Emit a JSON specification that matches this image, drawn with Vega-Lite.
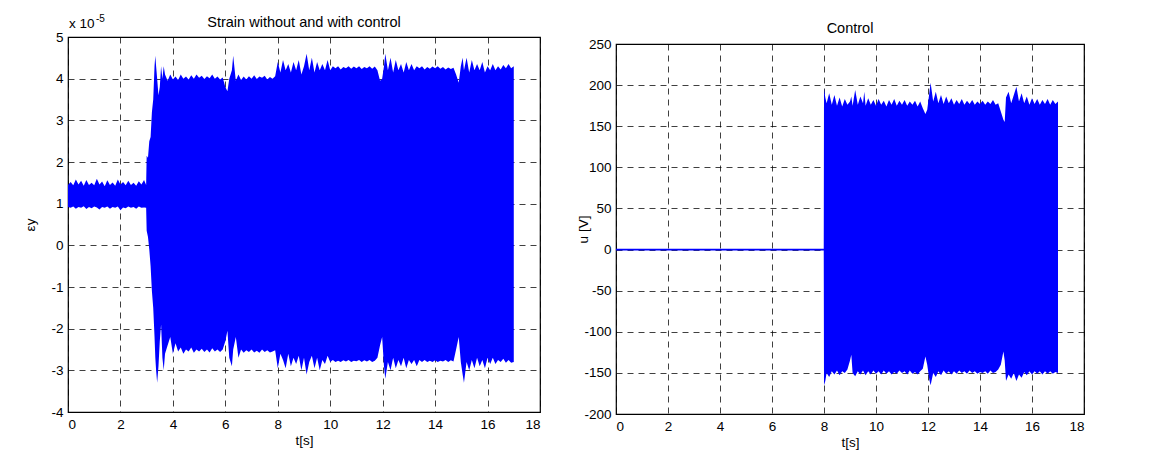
{
  "$schema": "https://vega.github.io/schema/vega-lite/v6.json",
  "background": "white",
  "padding": {"left": 23, "top": 13, "right": 5, "bottom": 3},
  "config": {
    "font": "Liberation Sans",
    "view": {"stroke": "#000", "strokeWidth": 1.2},
    "axis": {"grid": true, "gridColor": "#000", "gridDash": [6, 5], "gridOpacity": 0.75, "gridWidth": 1, "ticks": false, "tickSize": 0, "domain": false, "labelFont": "Liberation Sans", "labelFontSize": 13.5, "labelColor": "#000", "labelExpr": "replace(datum.label, '−', '-')", "titleFont": "Liberation Sans", "titleFontSize": 13.5, "titleFontWeight": "normal", "titleColor": "#000"},
    "title": {"font": "Liberation Sans", "fontSize": 14.5, "fontWeight": "normal", "color": "#000", "baseline": "alphabetic"},
    "concat": {"spacing": 34}
  },
  "datasets": {
    "strain": [
      {"t": 0.0, "hi": 1.45, "lo": 0.92}, {"t": 0.1, "hi": 1.52, "lo": 0.90}, {"t": 0.2, "hi": 1.44, "lo": 0.93}, {"t": 0.3, "hi": 1.58, "lo": 0.88},
      {"t": 0.4, "hi": 1.46, "lo": 0.92}, {"t": 0.5, "hi": 1.55, "lo": 0.90}, {"t": 0.6, "hi": 1.43, "lo": 0.94}, {"t": 0.7, "hi": 1.57, "lo": 0.87},
      {"t": 0.8, "hi": 1.45, "lo": 0.92}, {"t": 0.9, "hi": 1.50, "lo": 0.89}, {"t": 1.0, "hi": 1.44, "lo": 0.93}, {"t": 1.1, "hi": 1.60, "lo": 0.91},
      {"t": 1.2, "hi": 1.46, "lo": 0.86}, {"t": 1.3, "hi": 1.53, "lo": 0.92}, {"t": 1.4, "hi": 1.42, "lo": 0.90}, {"t": 1.5, "hi": 1.56, "lo": 0.93},
      {"t": 1.6, "hi": 1.45, "lo": 0.88}, {"t": 1.7, "hi": 1.51, "lo": 0.92}, {"t": 1.8, "hi": 1.43, "lo": 0.90}, {"t": 1.9, "hi": 1.58, "lo": 0.93},
      {"t": 2.0, "hi": 1.46, "lo": 0.84}, {"t": 2.1, "hi": 1.52, "lo": 0.91}, {"t": 2.2, "hi": 1.44, "lo": 0.89}, {"t": 2.3, "hi": 1.55, "lo": 0.93},
      {"t": 2.4, "hi": 1.45, "lo": 0.90}, {"t": 2.5, "hi": 1.50, "lo": 0.92}, {"t": 2.6, "hi": 1.43, "lo": 0.88}, {"t": 2.7, "hi": 1.54, "lo": 0.93},
      {"t": 2.8, "hi": 1.46, "lo": 0.90}, {"t": 2.9, "hi": 1.57, "lo": 0.91}, {"t": 2.98, "hi": 1.45, "lo": 0.90},
      {"t": 3.0, "hi": 2.15, "lo": 0.35}, {"t": 3.05, "hi": 2.1, "lo": 0.2}, {"t": 3.1, "hi": 2.5, "lo": -0.1}, {"t": 3.15, "hi": 2.6, "lo": -0.5},
      {"t": 3.2, "hi": 3.2, "lo": -1.1}, {"t": 3.25, "hi": 3.5, "lo": -1.5}, {"t": 3.3, "hi": 4.3, "lo": -2.2}, {"t": 3.33, "hi": 4.55, "lo": -2.7},
      {"t": 3.36, "hi": 4.3, "lo": -3.0}, {"t": 3.4, "hi": 4.0, "lo": -3.3}, {"t": 3.45, "hi": 3.6, "lo": -2.9}, {"t": 3.5, "hi": 3.8, "lo": -2.3},
      {"t": 3.55, "hi": 4.3, "lo": -1.9}, {"t": 3.6, "hi": 4.0, "lo": -2.7}, {"t": 3.65, "hi": 4.3, "lo": -3.0}, {"t": 3.7, "hi": 4.1, "lo": -2.6},
      {"t": 3.8, "hi": 3.95, "lo": -2.4}, {"t": 3.9, "hi": 4.1, "lo": -2.2}, {"t": 4.0, "hi": 3.98, "lo": -2.6}, {"t": 4.1, "hi": 4.05, "lo": -2.35},
      {"t": 4.2, "hi": 3.97, "lo": -2.55}, {"t": 4.3, "hi": 4.1, "lo": -2.45}, {"t": 4.4, "hi": 4.0, "lo": -2.6}, {"t": 4.5, "hi": 4.05, "lo": -2.5},
      {"t": 4.6, "hi": 3.98, "lo": -2.55}, {"t": 4.7, "hi": 4.08, "lo": -2.45}, {"t": 4.8, "hi": 4.0, "lo": -2.58}, {"t": 4.9, "hi": 4.1, "lo": -2.5},
      {"t": 5.0, "hi": 4.02, "lo": -2.55}, {"t": 5.1, "hi": 4.07, "lo": -2.48}, {"t": 5.2, "hi": 3.99, "lo": -2.56}, {"t": 5.3, "hi": 4.06, "lo": -2.5},
      {"t": 5.4, "hi": 4.01, "lo": -2.57}, {"t": 5.5, "hi": 4.1, "lo": -2.47}, {"t": 5.6, "hi": 4.0, "lo": -2.55}, {"t": 5.7, "hi": 4.05, "lo": -2.5},
      {"t": 5.8, "hi": 3.98, "lo": -2.56}, {"t": 5.9, "hi": 4.03, "lo": -2.5}, {"t": 6.0, "hi": 3.8, "lo": -2.3}, {"t": 6.08, "hi": 3.7, "lo": -2.05},
      {"t": 6.15, "hi": 4.0, "lo": -2.7}, {"t": 6.25, "hi": 4.2, "lo": -2.9}, {"t": 6.3, "hi": 4.55, "lo": -2.5}, {"t": 6.4, "hi": 3.95, "lo": -2.2},
      {"t": 6.5, "hi": 4.1, "lo": -2.7}, {"t": 6.6, "hi": 3.97, "lo": -2.5}, {"t": 6.7, "hi": 4.05, "lo": -2.58}, {"t": 6.8, "hi": 3.98, "lo": -2.52},
      {"t": 6.9, "hi": 4.06, "lo": -2.56}, {"t": 7.0, "hi": 4.0, "lo": -2.5}, {"t": 7.1, "hi": 4.08, "lo": -2.57}, {"t": 7.2, "hi": 3.99, "lo": -2.53},
      {"t": 7.3, "hi": 4.05, "lo": -2.58}, {"t": 7.4, "hi": 4.02, "lo": -2.5}, {"t": 7.5, "hi": 4.07, "lo": -2.56}, {"t": 7.6, "hi": 3.98, "lo": -2.52},
      {"t": 7.7, "hi": 4.04, "lo": -2.57}, {"t": 7.8, "hi": 4.0, "lo": -2.55}, {"t": 7.9, "hi": 4.06, "lo": -2.52}, {"t": 8.0, "hi": 4.4, "lo": -2.95},
      {"t": 8.1, "hi": 4.15, "lo": -2.6}, {"t": 8.2, "hi": 4.45, "lo": -2.75}, {"t": 8.3, "hi": 4.2, "lo": -2.95}, {"t": 8.4, "hi": 4.35, "lo": -2.6},
      {"t": 8.5, "hi": 4.15, "lo": -2.9}, {"t": 8.6, "hi": 4.4, "lo": -2.7}, {"t": 8.7, "hi": 4.2, "lo": -2.85}, {"t": 8.8, "hi": 4.45, "lo": -2.65},
      {"t": 8.9, "hi": 4.1, "lo": -3.0}, {"t": 9.0, "hi": 4.3, "lo": -2.7}, {"t": 9.1, "hi": 4.6, "lo": -3.1}, {"t": 9.2, "hi": 4.2, "lo": -2.8},
      {"t": 9.3, "hi": 4.5, "lo": -2.65}, {"t": 9.4, "hi": 4.15, "lo": -2.95}, {"t": 9.5, "hi": 4.4, "lo": -2.7}, {"t": 9.6, "hi": 4.2, "lo": -3.0},
      {"t": 9.7, "hi": 4.35, "lo": -2.75}, {"t": 9.8, "hi": 4.2, "lo": -2.85}, {"t": 9.9, "hi": 4.45, "lo": -2.65}, {"t": 10.0, "hi": 4.2, "lo": -2.8},
      {"t": 10.1, "hi": 4.3, "lo": -2.75}, {"t": 10.2, "hi": 4.25, "lo": -2.8}, {"t": 10.3, "hi": 4.3, "lo": -2.77}, {"t": 10.4, "hi": 4.22, "lo": -2.8},
      {"t": 10.5, "hi": 4.28, "lo": -2.76}, {"t": 10.6, "hi": 4.25, "lo": -2.79}, {"t": 10.7, "hi": 4.3, "lo": -2.75}, {"t": 10.8, "hi": 4.24, "lo": -2.8},
      {"t": 10.9, "hi": 4.29, "lo": -2.77}, {"t": 11.0, "hi": 4.25, "lo": -2.78}, {"t": 11.1, "hi": 4.3, "lo": -2.75}, {"t": 11.2, "hi": 4.23, "lo": -2.8},
      {"t": 11.3, "hi": 4.28, "lo": -2.76}, {"t": 11.4, "hi": 4.25, "lo": -2.79}, {"t": 11.5, "hi": 4.3, "lo": -2.75}, {"t": 11.6, "hi": 4.24, "lo": -2.8},
      {"t": 11.7, "hi": 4.29, "lo": -2.77}, {"t": 11.8, "hi": 4.2, "lo": -2.7}, {"t": 11.9, "hi": 3.95, "lo": -2.4}, {"t": 11.98, "hi": 4.0, "lo": -2.2},
      {"t": 12.05, "hi": 4.3, "lo": -2.9}, {"t": 12.1, "hi": 4.6, "lo": -3.2}, {"t": 12.2, "hi": 4.2, "lo": -2.8}, {"t": 12.3, "hi": 4.5, "lo": -3.0},
      {"t": 12.4, "hi": 4.15, "lo": -2.7}, {"t": 12.5, "hi": 4.45, "lo": -2.95}, {"t": 12.6, "hi": 4.2, "lo": -2.75}, {"t": 12.7, "hi": 4.35, "lo": -2.9},
      {"t": 12.8, "hi": 4.15, "lo": -2.7}, {"t": 12.9, "hi": 4.4, "lo": -2.95}, {"t": 13.0, "hi": 4.2, "lo": -2.75}, {"t": 13.1, "hi": 4.35, "lo": -2.85},
      {"t": 13.2, "hi": 4.2, "lo": -2.75}, {"t": 13.3, "hi": 4.3, "lo": -2.9}, {"t": 13.4, "hi": 4.25, "lo": -2.75}, {"t": 13.5, "hi": 4.3, "lo": -2.8},
      {"t": 13.6, "hi": 4.22, "lo": -2.75}, {"t": 13.7, "hi": 4.28, "lo": -2.8}, {"t": 13.8, "hi": 4.24, "lo": -2.77}, {"t": 13.9, "hi": 4.29, "lo": -2.8},
      {"t": 14.0, "hi": 4.25, "lo": -2.76}, {"t": 14.1, "hi": 4.3, "lo": -2.8}, {"t": 14.2, "hi": 4.24, "lo": -2.77}, {"t": 14.3, "hi": 4.28, "lo": -2.79},
      {"t": 14.4, "hi": 4.22, "lo": -2.75}, {"t": 14.5, "hi": 4.27, "lo": -2.8}, {"t": 14.6, "hi": 4.23, "lo": -2.76}, {"t": 14.7, "hi": 4.26, "lo": -2.79},
      {"t": 14.8, "hi": 4.1, "lo": -2.5}, {"t": 14.9, "hi": 3.9, "lo": -2.2}, {"t": 14.98, "hi": 4.3, "lo": -2.8}, {"t": 15.05, "hi": 4.5, "lo": -3.1},
      {"t": 15.1, "hi": 4.2, "lo": -3.3}, {"t": 15.2, "hi": 4.5, "lo": -2.8}, {"t": 15.3, "hi": 4.15, "lo": -3.0}, {"t": 15.4, "hi": 4.45, "lo": -2.75},
      {"t": 15.5, "hi": 4.2, "lo": -2.95}, {"t": 15.6, "hi": 4.35, "lo": -2.7}, {"t": 15.7, "hi": 4.2, "lo": -2.9}, {"t": 15.8, "hi": 4.4, "lo": -2.75},
      {"t": 15.9, "hi": 4.15, "lo": -2.95}, {"t": 16.0, "hi": 4.3, "lo": -2.7}, {"t": 16.1, "hi": 4.2, "lo": -2.85}, {"t": 16.2, "hi": 4.35, "lo": -2.7},
      {"t": 16.3, "hi": 4.2, "lo": -2.85}, {"t": 16.4, "hi": 4.3, "lo": -2.75}, {"t": 16.5, "hi": 4.22, "lo": -2.8}, {"t": 16.6, "hi": 4.33, "lo": -2.72},
      {"t": 16.7, "hi": 4.25, "lo": -2.82}, {"t": 16.8, "hi": 4.35, "lo": -2.75}, {"t": 16.9, "hi": 4.25, "lo": -2.82}, {"t": 17.0, "hi": 4.3, "lo": -2.8}
    ],
    "control": [
      {"t": 0.0, "lo": -1, "hi": 1}, {"t": 7.99, "lo": -1, "hi": 1},
      {"t": 8.0, "lo": -165, "hi": 196}, {"t": 8.05, "lo": -160, "hi": 185}, {"t": 8.1, "lo": -150, "hi": 178}, {"t": 8.2, "lo": -155, "hi": 190},
      {"t": 8.3, "lo": -148, "hi": 176}, {"t": 8.4, "lo": -152, "hi": 188}, {"t": 8.5, "lo": -147, "hi": 175}, {"t": 8.6, "lo": -153, "hi": 185},
      {"t": 8.7, "lo": -148, "hi": 174}, {"t": 8.8, "lo": -150, "hi": 183}, {"t": 8.9, "lo": -146, "hi": 176}, {"t": 9.0, "lo": -135, "hi": 180},
      {"t": 9.05, "lo": -128, "hi": 186}, {"t": 9.1, "lo": -150, "hi": 175}, {"t": 9.2, "lo": -154, "hi": 194}, {"t": 9.3, "lo": -148, "hi": 176},
      {"t": 9.4, "lo": -152, "hi": 186}, {"t": 9.5, "lo": -147, "hi": 178}, {"t": 9.55, "lo": -150, "hi": 192}, {"t": 9.6, "lo": -153, "hi": 175},
      {"t": 9.7, "lo": -148, "hi": 184}, {"t": 9.8, "lo": -152, "hi": 176}, {"t": 9.9, "lo": -147, "hi": 182}, {"t": 10.0, "lo": -151, "hi": 175},
      {"t": 10.1, "lo": -148, "hi": 183}, {"t": 10.2, "lo": -152, "hi": 176}, {"t": 10.3, "lo": -147, "hi": 181}, {"t": 10.4, "lo": -151, "hi": 174},
      {"t": 10.5, "lo": -148, "hi": 182}, {"t": 10.6, "lo": -152, "hi": 176}, {"t": 10.7, "lo": -149, "hi": 183}, {"t": 10.8, "lo": -151, "hi": 175},
      {"t": 10.9, "lo": -147, "hi": 181}, {"t": 11.0, "lo": -150, "hi": 176}, {"t": 11.1, "lo": -148, "hi": 182}, {"t": 11.2, "lo": -152, "hi": 175},
      {"t": 11.3, "lo": -147, "hi": 180}, {"t": 11.4, "lo": -151, "hi": 176}, {"t": 11.5, "lo": -149, "hi": 181}, {"t": 11.6, "lo": -152, "hi": 174},
      {"t": 11.7, "lo": -148, "hi": 180}, {"t": 11.8, "lo": -145, "hi": 172}, {"t": 11.9, "lo": -130, "hi": 165}, {"t": 11.97, "lo": -140, "hi": 170},
      {"t": 12.05, "lo": -158, "hi": 190}, {"t": 12.1, "lo": -165, "hi": 203}, {"t": 12.2, "lo": -150, "hi": 180}, {"t": 12.3, "lo": -155, "hi": 192},
      {"t": 12.4, "lo": -148, "hi": 178}, {"t": 12.5, "lo": -153, "hi": 188}, {"t": 12.6, "lo": -147, "hi": 177}, {"t": 12.7, "lo": -151, "hi": 186},
      {"t": 12.8, "lo": -148, "hi": 178}, {"t": 12.9, "lo": -152, "hi": 184}, {"t": 13.0, "lo": -148, "hi": 176}, {"t": 13.1, "lo": -151, "hi": 182},
      {"t": 13.2, "lo": -147, "hi": 177}, {"t": 13.3, "lo": -150, "hi": 183}, {"t": 13.4, "lo": -148, "hi": 176}, {"t": 13.5, "lo": -151, "hi": 181},
      {"t": 13.6, "lo": -147, "hi": 177}, {"t": 13.7, "lo": -150, "hi": 182}, {"t": 13.8, "lo": -148, "hi": 176}, {"t": 13.9, "lo": -151, "hi": 180},
      {"t": 14.0, "lo": -149, "hi": 177}, {"t": 14.1, "lo": -150, "hi": 181}, {"t": 14.2, "lo": -148, "hi": 176}, {"t": 14.3, "lo": -151, "hi": 180},
      {"t": 14.4, "lo": -147, "hi": 177}, {"t": 14.5, "lo": -150, "hi": 182}, {"t": 14.6, "lo": -149, "hi": 176}, {"t": 14.7, "lo": -146, "hi": 178},
      {"t": 14.8, "lo": -140, "hi": 168}, {"t": 14.9, "lo": -124, "hi": 158}, {"t": 14.95, "lo": -135, "hi": 155}, {"t": 15.0, "lo": -160, "hi": 185},
      {"t": 15.1, "lo": -152, "hi": 192}, {"t": 15.2, "lo": -157, "hi": 178}, {"t": 15.3, "lo": -150, "hi": 188}, {"t": 15.4, "lo": -160, "hi": 198},
      {"t": 15.5, "lo": -152, "hi": 180}, {"t": 15.6, "lo": -156, "hi": 190}, {"t": 15.7, "lo": -149, "hi": 178}, {"t": 15.8, "lo": -153, "hi": 186},
      {"t": 15.9, "lo": -148, "hi": 176}, {"t": 16.0, "lo": -152, "hi": 184}, {"t": 16.1, "lo": -148, "hi": 177}, {"t": 16.2, "lo": -151, "hi": 183},
      {"t": 16.3, "lo": -148, "hi": 176}, {"t": 16.4, "lo": -152, "hi": 182}, {"t": 16.5, "lo": -148, "hi": 177}, {"t": 16.6, "lo": -151, "hi": 183},
      {"t": 16.7, "lo": -148, "hi": 176}, {"t": 16.8, "lo": -151, "hi": 182}, {"t": 16.9, "lo": -149, "hi": 177}, {"t": 17.0, "lo": -150, "hi": 180}
    ],
    "exponent": [{"t": 0, "v": 5, "base": "x 10", "exp": "-5"}],
    "empty": []
  },
  "hconcat": [
    {
      "width": 472,
      "height": 375,
      "title": {"text": "Strain without and with control", "offset": -16},
      "layer": [
        {
          "data": {"name": "strain"},
          "mark": {"type": "area", "color": "#0000ff", "opacity": 1},
          "encoding": {
            "x": {"field": "t", "type": "quantitative", "scale": {"domain": [0, 18], "nice": false}, "axis": {"values": [0, 2, 4, 6, 8, 10, 12, 14, 16, 18], "title": "t[s]", "labelPadding": 5, "titlePadding": 3}},
            "y": {"field": "hi", "type": "quantitative", "scale": {"domain": [-4, 5], "nice": false, "zero": false}, "axis": {"values": [-4, -3, -2, -1, 0, 1, 2, 3, 4, 5], "title": "εy", "labelPadding": 5, "titlePadding": 13}},
            "y2": {"field": "lo"}
          }
        },
        {
          "data": {"name": "exponent"},
          "mark": {"type": "text", "align": "left", "baseline": "alphabetic", "dx": 1, "dy": -9, "fontSize": 13.5, "font": "Liberation Sans", "color": "#000"},
          "encoding": {
            "x": {"field": "t", "type": "quantitative"},
            "y": {"field": "v", "type": "quantitative"},
            "text": {"field": "base"}
          }
        },
        {
          "data": {"name": "exponent"},
          "mark": {"type": "text", "align": "left", "baseline": "alphabetic", "dx": 28, "dy": -15, "fontSize": 10, "font": "Liberation Sans", "color": "#000"},
          "encoding": {
            "x": {"field": "t", "type": "quantitative"},
            "y": {"field": "v", "type": "quantitative"},
            "text": {"field": "exp"}
          }
        }
      ]
    },
    {
      "spacing": -2,
      "vconcat": [
        {
          "width": 468,
          "height": 0.01,
          "view": {"stroke": null},
          "title": {"text": "Control", "offset": 1, "anchor": "middle", "frame": "group"},
          "data": {"name": "empty"},
          "mark": "point"
        },
        {
          "width": 468,
          "height": 370,
          "data": {"name": "control"},
          "mark": {"type": "area", "color": "#0000ff", "opacity": 1},
          "encoding": {
            "x": {"field": "t", "type": "quantitative", "scale": {"domain": [0, 18], "nice": false}, "axis": {"values": [0, 2, 4, 6, 8, 10, 12, 14, 16, 18], "title": "t[s]", "labelPadding": 5, "titlePadding": 3}},
            "y": {"field": "hi", "type": "quantitative", "scale": {"domain": [-200, 250], "nice": false, "zero": false}, "axis": {"values": [-200, -150, -100, -50, 0, 50, 100, 150, 200, 250], "title": "u [V]", "labelPadding": 5, "titlePadding": -6.6}},
            "y2": {"field": "lo"}
          }
        }
      ]
    }
  ]
}
